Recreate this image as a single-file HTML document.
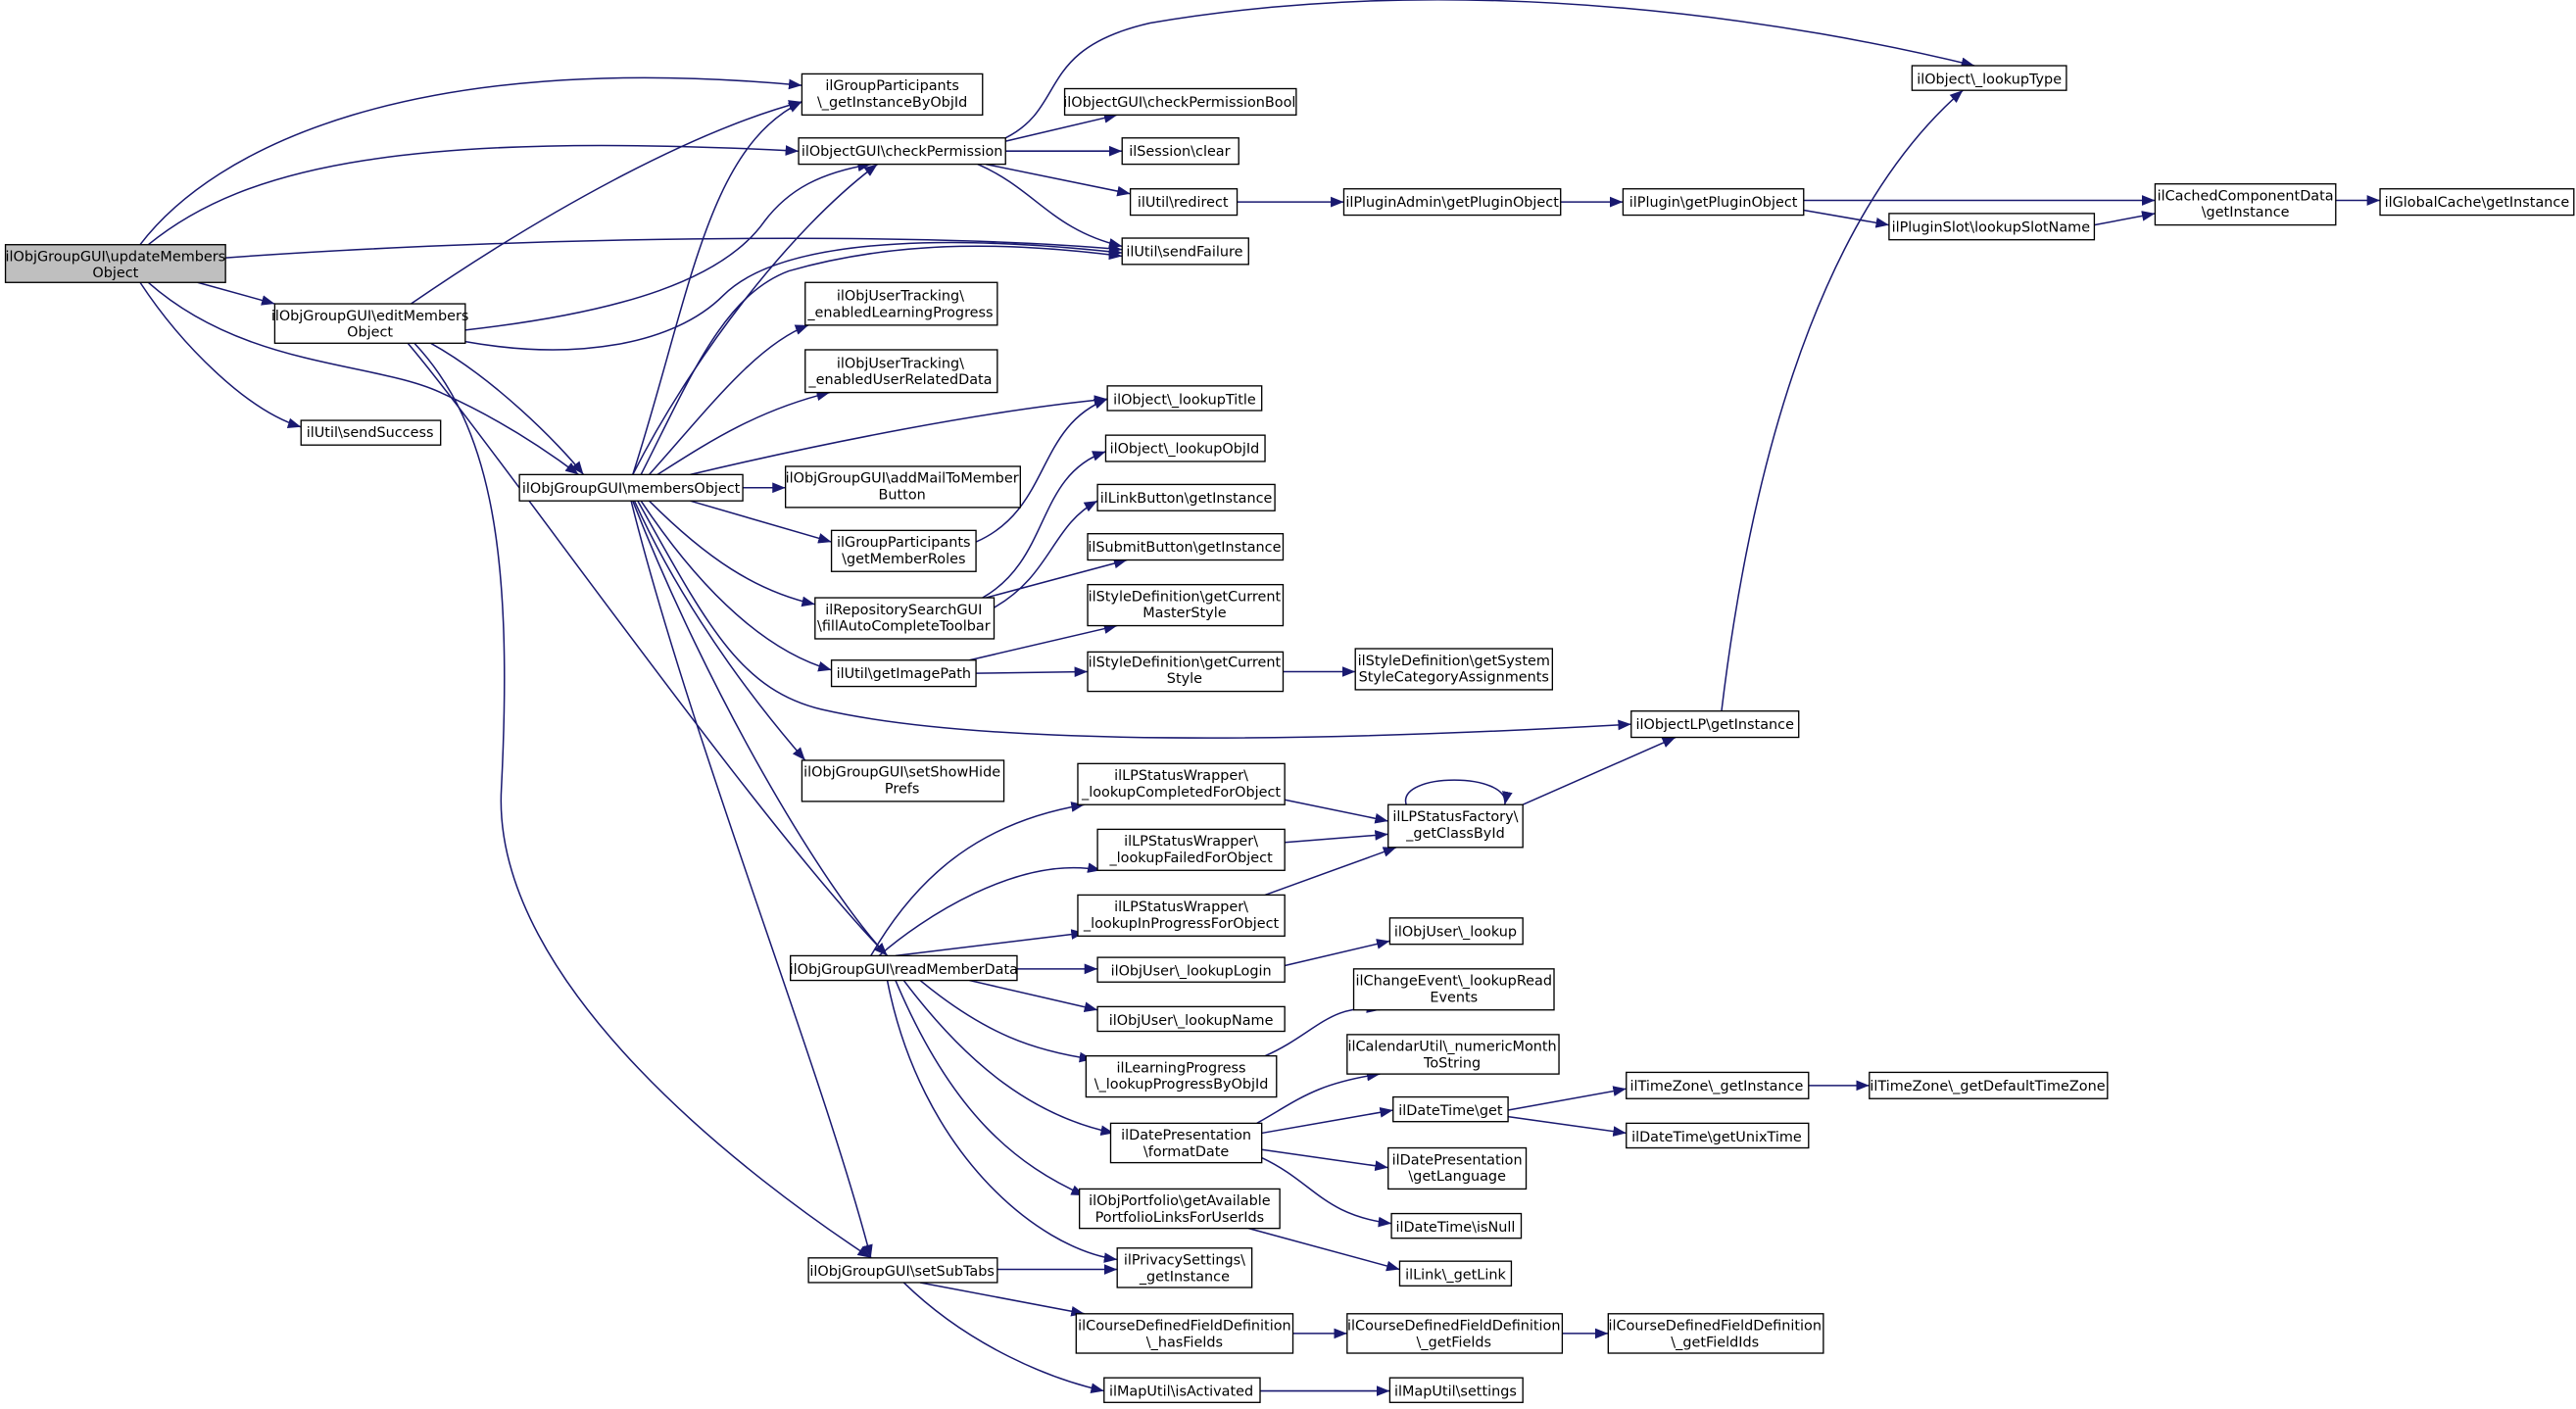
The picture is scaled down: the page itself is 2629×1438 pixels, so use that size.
<!DOCTYPE html>
<html><head><meta charset="utf-8"><style>html,body{margin:0;padding:0;background:#fff}svg{display:block}</style></head><body>
<svg xmlns="http://www.w3.org/2000/svg" width="2629" height="1438" viewBox="0 0 1568 858">
<defs><marker id="a" viewBox="0 0 10 10" refX="10" refY="5" markerWidth="8" markerHeight="8" markerUnits="userSpaceOnUse" orient="auto"><path d="M0,1 L10,5 L0,9 z" fill="#191970"/></marker></defs>
<rect width="1568" height="858" fill="#fff"/>
<g fill="none" stroke="#191970" stroke-width="0.9" marker-end="url(#a)">
<path d="M85,149 C130,90 250,30 488,52"/>
<path d="M90,149 C150,100 250,80 486,92"/>
<path d="M137,157 C300,145 550,140 683,152"/>
<path d="M120,172 L167,185"/>
<path d="M85,172 C110,210 150,250 183,260"/>
<path d="M90,172 C150,225 230,220 270,240 C310,258 340,280 352,289"/>
<path d="M250,185 C330,130 420,80 488,62"/>
<path d="M283,201 C380,190 440,170 465,135 C480,115 500,105 530,100"/>
<path d="M283,208 C350,220 410,210 440,180 C480,140 600,145 683,154"/>
<path d="M262,209 C300,230 340,270 355,289"/>
<path d="M248,209 C300,270 460,500 540,582"/>
<path d="M252,209 C300,260 312,340 305,480 C298,600 460,720 530,766"/>
<path d="M385,289 C420,180 430,90 488,62"/>
<path d="M385,289 C420,220 480,140 534,100"/>
<path d="M390,289 C420,230 440,180 480,165 C550,145 620,148 683,156"/>
<path d="M395,289 C430,250 460,210 492,198"/>
<path d="M400,289 C430,270 460,250 505,239"/>
<path d="M420,289 C500,270 600,250 674,243"/>
<path d="M452,297 L478,297"/>
<path d="M420,305 L506,330"/>
<path d="M395,305 C430,340 460,360 496,368"/>
<path d="M390,305 C420,350 460,395 506,408"/>
<path d="M388,305 C430,380 450,420 500,432 C600,455 800,452 993,441"/>
<path d="M386,305 C420,380 470,440 490,463"/>
<path d="M385,305 C430,420 500,540 540,582"/>
<path d="M384,305 C420,450 500,650 530,766"/>
<path d="M612,84 C650,65 630,30 700,14 C900,-20 1100,15 1202,40"/>
<path d="M612,86 L680,70"/>
<path d="M612,92 L683,92"/>
<path d="M600,100 L688,118"/>
<path d="M595,100 C630,115 640,140 683,150"/>
<path d="M594,330 C640,310 630,260 674,243"/>
<path d="M598,364 C640,340 630,290 673,275"/>
<path d="M605,370 C640,350 640,320 668,305"/>
<path d="M600,364 L686,341"/>
<path d="M590,402 L680,381"/>
<path d="M594,410 L662,409"/>
<path d="M781,409 L825,409"/>
<path d="M753,123 L818,123"/>
<path d="M950,123 L988,123"/>
<path d="M1098,122 L1312,122"/>
<path d="M1098,128 L1150,137"/>
<path d="M1275,137 L1312,130"/>
<path d="M1422,122 L1449,122"/>
<path d="M1048,433 C1070,250 1120,120 1195,55"/>
<path d="M530,582 C560,530 600,500 660,490"/>
<path d="M535,582 C560,560 620,520 670,530"/>
<path d="M545,582 L660,568"/>
<path d="M619,590 L668,590"/>
<path d="M590,597 L668,615"/>
<path d="M560,597 C600,630 630,640 665,645"/>
<path d="M550,597 C590,650 630,680 678,690"/>
<path d="M545,597 C580,680 620,710 660,728"/>
<path d="M540,597 C560,700 630,760 680,767"/>
<path d="M607,773 L680,773"/>
<path d="M560,781 L660,800"/>
<path d="M550,781 C590,820 640,840 672,847"/>
<path d="M782,487 L845,500"/>
<path d="M782,513 L845,508"/>
<path d="M770,545 L850,516"/>
<path d="M856,490 C850,470 920,470 916,490"/>
<path d="M927,490 L1020,449"/>
<path d="M782,588 L846,573"/>
<path d="M770,643 C800,630 810,610 840,615"/>
<path d="M765,684 C790,670 800,660 840,654"/>
<path d="M768,690 L848,676"/>
<path d="M768,700 L845,711"/>
<path d="M768,705 C800,720 805,740 847,745"/>
<path d="M760,748 L852,773"/>
<path d="M918,676 L990,663"/>
<path d="M918,680 L990,690"/>
<path d="M1101,661 L1138,661"/>
<path d="M787,812 L820,812"/>
<path d="M951,812 L979,812"/>
<path d="M767,847 L846,847"/>
</g>
<g stroke="#000" stroke-width="0.8" fill="#fff">
<rect x="3" y="149" width="134" height="23" fill="#bfbfbf"/>
<rect x="167" y="185" width="116" height="24"/>
<rect x="183" y="256" width="85" height="15"/>
<rect x="316" y="289" width="136" height="16"/>
<rect x="488" y="45" width="110" height="25"/>
<rect x="486" y="84" width="126" height="16"/>
<rect x="490" y="172" width="117" height="26"/>
<rect x="490" y="213" width="117" height="26"/>
<rect x="478" y="284" width="143" height="25"/>
<rect x="506" y="323" width="88" height="25"/>
<rect x="496" y="364" width="109" height="25"/>
<rect x="506" y="402" width="88" height="16"/>
<rect x="488" y="463" width="123" height="25"/>
<rect x="481" y="582" width="138" height="15"/>
<rect x="492" y="766" width="115" height="15"/>
<rect x="648" y="54" width="141" height="16"/>
<rect x="683" y="84" width="71" height="16"/>
<rect x="688" y="115" width="65" height="16"/>
<rect x="683" y="145" width="77" height="16"/>
<rect x="674" y="235" width="94" height="15"/>
<rect x="673" y="265" width="97" height="16"/>
<rect x="668" y="295" width="108" height="16"/>
<rect x="662" y="325" width="119" height="16"/>
<rect x="662" y="356" width="119" height="25"/>
<rect x="662" y="397" width="119" height="24"/>
<rect x="656" y="465" width="126" height="25"/>
<rect x="668" y="505" width="114" height="25"/>
<rect x="656" y="545" width="126" height="25"/>
<rect x="668" y="583" width="114" height="15"/>
<rect x="668" y="613" width="114" height="15"/>
<rect x="661" y="643" width="116" height="25"/>
<rect x="676" y="684" width="92" height="24"/>
<rect x="657" y="724" width="122" height="24"/>
<rect x="680" y="760" width="82" height="24"/>
<rect x="655" y="800" width="132" height="24"/>
<rect x="672" y="839" width="95" height="15"/>
<rect x="818" y="115" width="132" height="16"/>
<rect x="1164" y="40" width="94" height="15"/>
<rect x="988" y="115" width="110" height="16"/>
<rect x="1150" y="130" width="125" height="16"/>
<rect x="1312" y="112" width="110" height="25"/>
<rect x="1449" y="115" width="118" height="16"/>
<rect x="825" y="395" width="120" height="25"/>
<rect x="993" y="433" width="102" height="16"/>
<rect x="845" y="490" width="82" height="26"/>
<rect x="846" y="559" width="81" height="16"/>
<rect x="824" y="590" width="122" height="25"/>
<rect x="820" y="630" width="129" height="24"/>
<rect x="848" y="668" width="70" height="15"/>
<rect x="845" y="699" width="84" height="25"/>
<rect x="847" y="739" width="79" height="15"/>
<rect x="852" y="768" width="68" height="15"/>
<rect x="820" y="800" width="131" height="24"/>
<rect x="846" y="839" width="81" height="15"/>
<rect x="990" y="653" width="111" height="16"/>
<rect x="990" y="684" width="111" height="15"/>
<rect x="1138" y="653" width="145" height="16"/>
<rect x="979" y="800" width="131" height="24"/>
</g>
<g font-family="DejaVu Sans, Liberation Sans, sans-serif" font-size="8.6" text-anchor="middle" fill="#000">
<text x="70" y="159">ilObjGroupGUI\updateMembers</text><text x="70" y="169">Object</text>
<text x="225" y="195">ilObjGroupGUI\editMembers</text><text x="225" y="205">Object</text>
<text x="225" y="266">ilUtil\sendSuccess</text>
<text x="384" y="300">ilObjGroupGUI\membersObject</text>
<text x="543" y="55">ilGroupParticipants</text><text x="543" y="65">\_getInstanceByObjId</text>
<text x="549" y="95">ilObjectGUI\checkPermission</text>
<text x="548" y="183">ilObjUserTracking\</text><text x="548" y="193">_enabledLearningProgress</text>
<text x="548" y="224">ilObjUserTracking\</text><text x="548" y="234">_enabledUserRelatedData</text>
<text x="549" y="294">ilObjGroupGUI\addMailToMember</text><text x="549" y="304">Button</text>
<text x="550" y="333">ilGroupParticipants</text><text x="550" y="343">\getMemberRoles</text>
<text x="550" y="374">ilRepositorySearchGUI</text><text x="550" y="384">\fillAutoCompleteToolbar</text>
<text x="550" y="413">ilUtil\getImagePath</text>
<text x="549" y="473">ilObjGroupGUI\setShowHide</text><text x="549" y="483">Prefs</text>
<text x="550" y="593">ilObjGroupGUI\readMemberData</text>
<text x="549" y="777">ilObjGroupGUI\setSubTabs</text>
<text x="718" y="65">ilObjectGUI\checkPermissionBool</text>
<text x="718" y="95">ilSession\clear</text>
<text x="720" y="126">ilUtil\redirect</text>
<text x="721" y="156">ilUtil\sendFailure</text>
<text x="721" y="246">ilObject\_lookupTitle</text>
<text x="721" y="276">ilObject\_lookupObjId</text>
<text x="722" y="306">ilLinkButton\getInstance</text>
<text x="721" y="336">ilSubmitButton\getInstance</text>
<text x="721" y="366">ilStyleDefinition\getCurrent</text><text x="721" y="376">MasterStyle</text>
<text x="721" y="406">ilStyleDefinition\getCurrent</text><text x="721" y="416">Style</text>
<text x="719" y="475">ilLPStatusWrapper\</text><text x="719" y="485">_lookupCompletedForObject</text>
<text x="725" y="515">ilLPStatusWrapper\</text><text x="725" y="525">_lookupFailedForObject</text>
<text x="719" y="555">ilLPStatusWrapper\</text><text x="719" y="565">_lookupInProgressForObject</text>
<text x="725" y="594">ilObjUser\_lookupLogin</text>
<text x="725" y="624">ilObjUser\_lookupName</text>
<text x="719" y="653">ilLearningProgress</text><text x="719" y="663">\_lookupProgressByObjId</text>
<text x="722" y="694">ilDatePresentation</text><text x="722" y="704">\formatDate</text>
<text x="718" y="734">ilObjPortfolio\getAvailable</text><text x="718" y="744">PortfolioLinksForUserIds</text>
<text x="721" y="770">ilPrivacySettings\</text><text x="721" y="780">_getInstance</text>
<text x="721" y="810">ilCourseDefinedFieldDefinition</text><text x="721" y="820">\_hasFields</text>
<text x="719" y="850">ilMapUtil\isActivated</text>
<text x="884" y="126">ilPluginAdmin\getPluginObject</text>
<text x="1211" y="51">ilObject\_lookupType</text>
<text x="1043" y="126">ilPlugin\getPluginObject</text>
<text x="1212" y="141">ilPluginSlot\lookupSlotName</text>
<text x="1367" y="122">ilCachedComponentData</text><text x="1367" y="132">\getInstance</text>
<text x="1508" y="126">ilGlobalCache\getInstance</text>
<text x="885" y="405">ilStyleDefinition\getSystem</text><text x="885" y="415">StyleCategoryAssignments</text>
<text x="1044" y="444">ilObjectLP\getInstance</text>
<text x="886" y="500">ilLPStatusFactory\</text><text x="886" y="510">_getClassById</text>
<text x="886" y="570">ilObjUser\_lookup</text>
<text x="885" y="600">ilChangeEvent\_lookupRead</text><text x="885" y="610">Events</text>
<text x="884" y="640">ilCalendarUtil\_numericMonth</text><text x="884" y="650">ToString</text>
<text x="883" y="679">ilDateTime\get</text>
<text x="887" y="709">ilDatePresentation</text><text x="887" y="719">\getLanguage</text>
<text x="886" y="750">ilDateTime\isNull</text>
<text x="886" y="779">ilLink\_getLink</text>
<text x="885" y="810">ilCourseDefinedFieldDefinition</text><text x="885" y="820">\_getFields</text>
<text x="886" y="850">ilMapUtil\settings</text>
<text x="1045" y="664">ilTimeZone\_getInstance</text>
<text x="1045" y="695">ilDateTime\getUnixTime</text>
<text x="1210" y="664">ilTimeZone\_getDefaultTimeZone</text>
<text x="1044" y="810">ilCourseDefinedFieldDefinition</text><text x="1044" y="820">\_getFieldIds</text>
</g>
</svg>
</body></html>
